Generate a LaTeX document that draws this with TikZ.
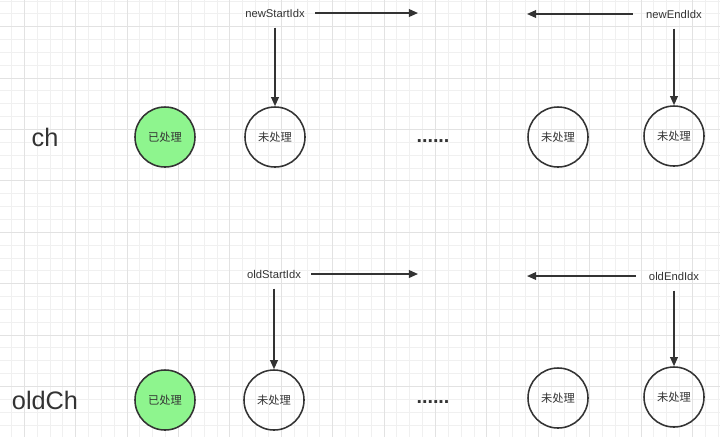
\documentclass[tikz,border=0pt]{standalone}
\usepackage{fontspec}
\setmainfont{Liberation Sans}
\newfontfamily\cjk{Noto Sans CJK SC}
\usetikzlibrary{positioning,arrows.meta}

\definecolor{gridminor}{RGB}{240,240,240}
\definecolor{gridmajor}{RGB}{226,226,226}
\definecolor{donefill}{RGB}{142,245,142}
\definecolor{ink}{RGB}{51,51,51}

\begin{document}
\begin{tikzpicture}[
  x=0.025cm, y=-0.025cm,
  vnode/.style={circle, draw=ink, line width=1.1pt, minimum size=1.5cm,
                inner sep=0pt, text=ink, font=\cjk\fontsize{8}{9}\selectfont},
  donenode/.style={vnode, fill=donefill},
  idx/.style={text=ink, font=\fontsize{8}{9}\selectfont},
  rowname/.style={text=ink, font=\fontsize{18}{20}\selectfont},
  gapdots/.style={text=ink, inner sep=0pt, font=\bfseries\fontsize{14}{15}\selectfont},
  arrow/.style={-{Triangle[length=6.5pt,width=5.5pt]}, line width=1.1pt, draw=ink,
                shorten <=4pt}
]
% background and grid
\fill[white] (0,0) rectangle (720,437);
\useasboundingbox (0,0) rectangle (720,437);
\foreach \k in {-1,...,54}
  \draw[gridminor, line width=0.7pt] ({24.3+12.85*\k},0) -- ({24.3+12.85*\k},437);
\foreach \k in {-2,...,31}
  \draw[gridminor, line width=0.7pt] (0,{26.7+12.85*\k}) -- (720,{26.7+12.85*\k});
\foreach \k in {0,...,13}
  \draw[gridmajor, line width=0.7pt] ({24.3+51.4*\k},0) -- ({24.3+51.4*\k},437);
\foreach \k in {0,...,7}
  \draw[gridmajor, line width=0.7pt] (0,{26.7+51.4*\k}) -- (720,{26.7+51.4*\k});

% new children
\node[rowname] (ch) at (45,137) {ch};
\node[donenode] (newdone) at (165,137) {已处理};
\node[vnode] (newa) at (275,137) {未处理};
\node[gapdots] (newdots) at (433,141) {......};
\node[vnode] (newb) at (558,137) {未处理};
\node[vnode] (newc) at (674,136) {未处理};
\node[idx] (newstart) at (275,13) {newStartIdx};
\node[idx] (newend) at (674,14) {newEndIdx};
\coordinate (newstarttip) at (418,13);
\coordinate (newendtip) at (527,14);
\draw[arrow] (newstart) -- (newstarttip);
\draw[arrow, shorten <=6pt] (newend) -- (newendtip);
\draw[arrow] (newstart) -- (newa);
\draw[arrow] (newend) -- (newc);

% old children
\node[rowname] (oldch) at (45,400) {oldCh};
\node[donenode] (olddone) at (165,400) {已处理};
\node[vnode] (olda) at (274,400) {未处理};
\node[gapdots] (olddots) at (433,402) {......};
\node[vnode] (oldb) at (558,398) {未处理};
\node[vnode] (oldc) at (674,397) {未处理};
\node[idx] (oldstart) at (274,274) {oldStartIdx};
\node[idx] (oldend) at (674,276) {oldEndIdx};
\coordinate (oldstarttip) at (418,274);
\coordinate (oldendtip) at (527,276);
\draw[arrow] (oldstart) -- (oldstarttip);
\draw[arrow, shorten <=6pt] (oldend) -- (oldendtip);
\draw[arrow] (oldstart) -- (olda);
\draw[arrow] (oldend) -- (oldc);
\end{tikzpicture}
\end{document}
